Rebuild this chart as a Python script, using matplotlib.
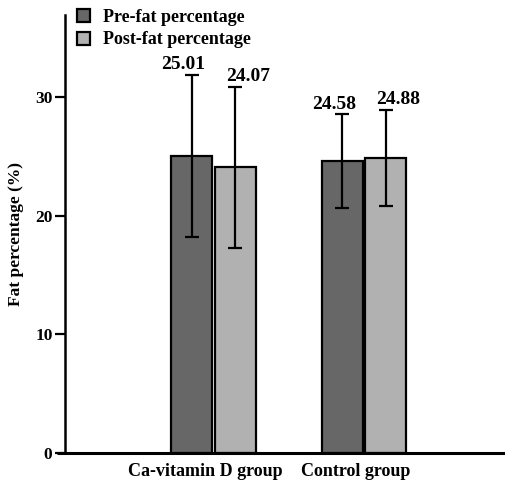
import matplotlib
matplotlib.use("Agg")
import matplotlib.pyplot as plt
import numpy as np
from matplotlib.patches import Patch
from matplotlib.transforms import ScaledTranslation

groups = ["Ca-vitamin D group", "Control group"]
series = ["Pre-fat percentage", "Post-fat percentage"]
pre_mean = [25.01, 24.58]
post_mean = [24.07, 24.88]
pre_sd = [6.85, 3.95]
post_sd = [6.8, 4.05]
yticks = [0, 10, 20, 30]

plt.rcParams['font.family'] = ['Liberation Serif', 'DejaVu Serif']

fig = plt.figure(figsize=(5.05, 4.91), dpi=100)
ax = fig.add_axes([65/505, 1 - 453/491, 1 - 65/505, (453 - 15)/491])

x = np.arange(len(groups))
w = 0.272
off = 0.145
colors = ["#676767", "#b1b1b1"]
means = [pre_mean, post_mean]
sds = [pre_sd, post_sd]
label_shift = [-6, 9]
for i, (m, s) in enumerate(zip(means, sds)):
    xs = x + (off if i else -off)
    ax.bar(xs, m, width=w, color=colors[i], edgecolor='black', linewidth=1.6,
           yerr=s, error_kw=dict(ecolor='black', elinewidth=1.6, capsize=5, capthick=1.6),
           zorder=2)
    for xi, mi, si in zip(xs, m, s):
        ax.annotate(f"{mi:.2f}", (xi, mi + si + 0.12), xytext=(label_shift[i], 0),
                    textcoords='offset points', ha='center', va='bottom',
                    fontsize=14, fontweight='bold')

ax.set_xlim(-0.987, 1.937)
ax.set_ylim(0, 36.9)
ax.set_yticks(yticks)
ax.set_yticklabels([str(t) for t in yticks], fontsize=12.5, fontweight='bold')
ax.set_xticks(x)
ax.set_xticklabels(groups, fontsize=13, fontweight='bold')
ax.tick_params(axis='x', length=0, pad=7)
ax.tick_params(axis='y', length=7, width=1.6, direction='out', pad=2)
for lbl in ax.get_xticklabels():
    lbl.set_transform(lbl.get_transform() + ScaledTranslation(-8/100, 0, fig.dpi_scale_trans))
for sp in ['top', 'right', 'bottom']:
    ax.spines[sp].set_visible(False)
ax.spines['left'].set_linewidth(1.8)
ax.plot([-8/440, 1], [0, 0], transform=ax.transAxes, color='black', lw=2.2,
        clip_on=False, solid_capstyle='butt', zorder=3)
ax.set_ylabel("Fat percentage (%)", fontsize=12.5, fontweight='bold', labelpad=8)

handles = [Patch(facecolor=colors[i], edgecolor='black', linewidth=1.6, label=series[i]) for i in range(2)]
leg = ax.legend(handles=handles, loc='upper left', bbox_to_anchor=(0.01, 1.03),
                frameon=False, prop={'size': 13, 'weight': 'bold'},
                handlelength=0.75, handleheight=0.75, handletextpad=0.7, labelspacing=0.3,
                borderaxespad=0)

fig.savefig("out.png", dpi=100)
